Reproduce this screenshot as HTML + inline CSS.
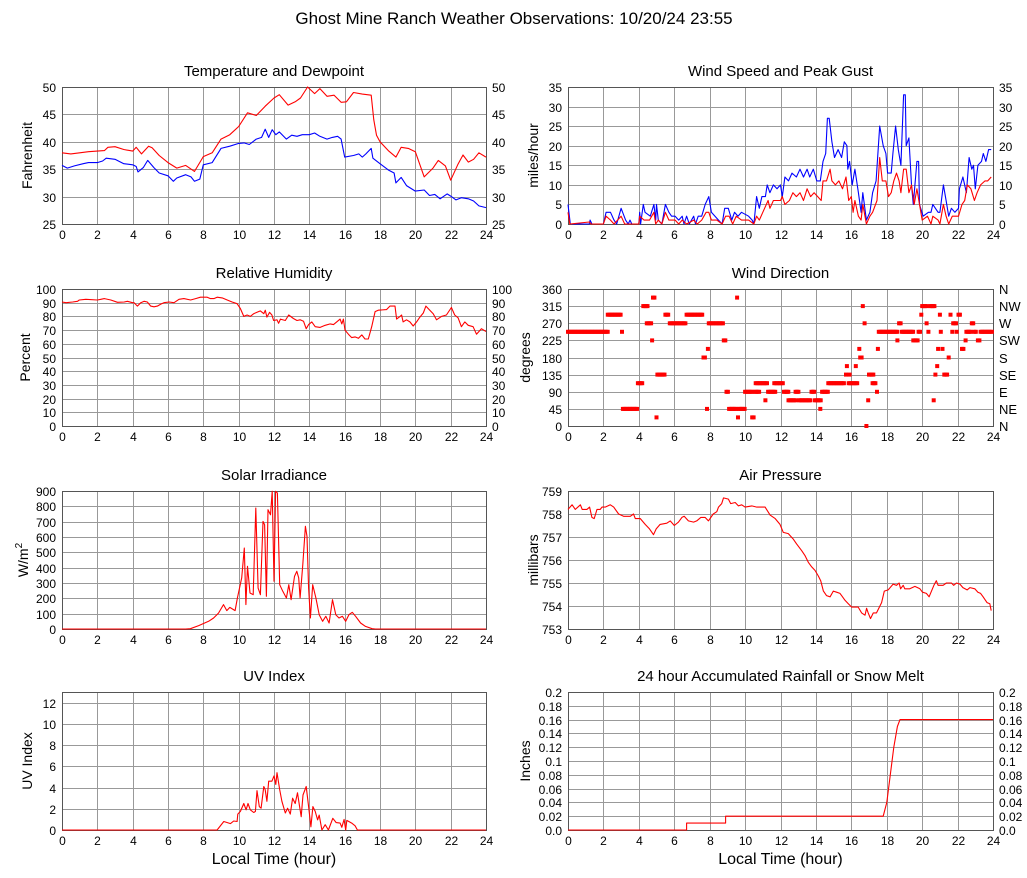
<!DOCTYPE html>
<html><head><meta charset="utf-8"><title>Ghost Mine Ranch Weather</title>
<style>
html,body{margin:0;padding:0;background:#fff;}
svg{display:block;font-family:"Liberation Sans",Arial,sans-serif;}
</style></head>
<body>
<svg id="chart" width="1027" height="878" viewBox="0 0 1027 878" xmlns="http://www.w3.org/2000/svg">
<text x="514" y="24" text-anchor="middle" font-size="17" fill="#000">Ghost Mine Ranch Weather Observations: 10/20/24 23:55</text>
</svg>
<script>
// ---- data ----
const hourTicks=[0,2,4,6,8,10,12,14,16,18,20,22,24];
const tempTicks=[25,30,35,40,45,50];
const windTicks=[0,5,10,15,20,25,30,35];
const rhTicks=[0,10,20,30,40,50,60,70,80,90,100];
const dirTicks=[0,45,90,135,180,225,270,315,360];
const dirLabels=["N","NE","E","SE","S","SW","W","NW","N"];
const solarTicks=[0,100,200,300,400,500,600,700,800,900];
const presTicks=[753,754,755,756,757,758,759];
const uvTicks=[0,2,4,6,8,10,12];
const rainTicks=[0,0.02,0.04,0.06,0.08,0.1,0.12,0.14,0.16,0.18,0.2];
const rainLabels=["0.0","0.02","0.04","0.06","0.08","0.1","0.12","0.14","0.16","0.18","0.2"];

const tempT=[0,0.5,1,1.5,2,2.4,2.6,3,3.5,4,4.2,4.5,4.9,5.1,5.5,6,6.5,7,7.5,8,8.5,9,9.5,10,10.5,11,11.5,12,12.3,12.8,13.2,13.5,13.9,14.3,14.6,15,15.4,15.8,16.1,16.5,17,17.5,17.65,17.8,18,18.5,18.9,19.2,19.6,20,20.5,21,21.3,21.7,22,22.4,22.7,23,23.3,23.6,24];
const tempV=[38,37.8,38,38.2,38.3,38.4,39,39.1,38.6,38.3,39,37.8,39.2,38.9,37.5,36.2,35.2,35.7,34.6,37.3,38,40.5,41.3,42.8,45.3,44.8,46.5,48,48.6,46.7,47.3,48,50,48.8,49.7,48.3,48.5,47.2,47.3,49,48.7,48.5,44,41.2,40,38.3,37.2,39,38.8,38.2,33.6,35.2,36.6,35.6,33,35.8,37.6,36.3,36.8,38,37.2];
const dewT=[0,0.3,0.7,1.2,1.5,2,2.3,2.5,3,3.5,4,4.2,4.3,4.6,4.85,5.2,5.5,6,6.3,6.5,7,7.3,7.5,7.8,8,8.5,9,9.5,10,10.3,10.6,10.8,11,11.3,11.5,11.7,11.9,12.1,12.3,12.7,13,13.3,13.6,14,14.3,14.6,15,15.3,15.6,15.8,16,16.5,16.8,17,17.2,17.5,17.6,18,18.5,18.8,18.9,19.2,19.5,20,20.5,20.8,21.1,21.4,21.8,22,22.3,22.6,23,23.3,23.6,24];
const dewV=[35.7,35.2,35.6,36,36.2,36.2,36.5,37,36.8,36,35.8,35.5,34.5,35.3,36.6,35.3,34.3,33.8,32.8,33.4,34,33.6,32.8,33.2,35.8,36.2,38.8,39.2,39.7,39.8,39.5,40,40.5,40.8,42.3,40.8,42.2,41.3,41.8,40.5,41.2,41,41.3,41.3,41.6,41,40.5,40.8,41,40.5,37.2,37.5,37.8,37.2,37.8,38.8,37,36,34.8,34.3,32.5,33.5,32,31,31.2,30.2,30.4,29.6,30.5,30.1,29.4,29.8,29.6,29.2,28.3,28];

const gustT=[0,0.13,1.2,1.25,1.35,2,2.15,2.4,2.6,2.75,3,3.25,3.4,3.5,3.6,4,4.05,4.1,4.25,4.35,4.65,4.85,4.95,5,5.1,5.3,5.5,5.7,5.85,6.05,6.25,6.45,6.55,6.7,6.85,7.1,7.2,7.35,7.55,7.75,7.95,8.1,8.3,8.5,8.7,8.85,9.05,9.25,9.4,9.6,9.8,10.2,10.4,10.5,10.65,10.8,10.95,11.15,11.25,11.4,11.6,11.8,12,12.1,12.25,12.45,12.65,12.9,13.1,13.3,13.5,13.65,13.85,14.05,14.25,14.4,14.55,14.65,14.75,14.9,15.05,15.25,15.45,15.6,15.75,15.8,15.9,16.05,16.2,16.4,16.55,16.65,16.85,17.05,17.2,17.4,17.6,17.8,17.95,18.05,18.25,18.35,18.5,18.65,18.8,18.95,19.05,19.1,19.25,19.4,19.5,19.7,19.8,19.85,20.05,20.35,20.5,20.6,20.9,21,21.2,21.35,21.5,21.65,21.85,22.05,22.1,22.3,22.5,22.65,22.8,22.9,23,23.15,23.35,23.45,23.6,23.75,23.9];
const gustV=[5,0,0,1,0,0,3,3,1,0,4,1,0,1,0,0,3,0,5,3,2,5,1,5,1,0,5,3,2,2,1,2,0,2,0,2,0,2,2,5,7,3,2,1,0,4,4,1,3,2,3,2,1,0,7,4,7,7,10,8,10,9,10,7,12,11,13,12,14,12,14,12,14,11,11,16,18,27,27,21,17,19,17,21,20,14,16,10,14,8,3,8,1,3,8,11,25,20,18,13,13,18,25,19,15,33,33,20,22,10,5,16,16,5,2,3,3,5,3,3,10,6,2,4,3,4,9,12,8,17,14,15,9,15,16,18,16,19,19];
const speedT=[0,0.1,1.2,1.3,2,2.15,2.4,2.6,3,3.2,4,4.05,4.3,4.6,4.85,4.95,5.1,5.3,5.5,5.7,6.05,6.25,6.45,6.7,7.1,7.3,7.55,7.8,7.95,8.1,8.4,8.7,8.9,9.1,9.3,9.5,9.8,10.2,10.5,10.65,10.8,11,11.3,11.4,11.6,12,12.1,12.25,12.5,12.7,12.9,13.1,13.3,13.5,13.7,13.9,14.1,14.3,14.4,14.6,14.8,14.9,15.1,15.3,15.5,15.7,15.85,16,16.1,16.2,16.4,16.55,16.65,16.85,17.05,17.2,17.45,17.6,17.75,17.95,18.1,18.25,18.4,18.55,18.7,18.8,18.95,19.1,19.25,19.4,19.55,19.7,19.85,20,20.3,20.5,20.6,20.9,21,21.2,21.35,21.5,21.7,22.05,22.25,22.4,22.55,22.75,22.95,23.1,23.3,23.55,23.7,23.9];
const speedV=[3,0,0.5,0,0,2,1,0,2,0,0,2,1,1,3,0,1,0,3,1,1,0,1,0,1,0,1,3,3,1,1,0,2,2,0,2,1,1,0,2,1,3,6,4,6,6,7,5,6,8,7,8,6,9,7,8,7,6,11,11,14,11,10,11,9,12,6,7,3,6,2,1,5,0,2,3,6,17,11,11,7,8,11,13,11,8,14,14,8,10,5,9,5,1,2,0,2,1,0,5,2,0,2,2,5,6,10,9,6,8,10,11,11,12];

const rhT=[0,0.23,0.6,0.88,0.98,1.35,2,2.2,2.4,2.76,3.14,3.52,3.7,3.99,4.08,4.27,4.46,4.65,4.83,5.02,5.21,5.4,5.59,5.77,6.06,6.34,6.62,6.9,7.28,7.56,7.84,8.22,8.4,8.6,8.78,9.07,9.35,9.63,9.91,10.1,10.29,10.48,10.66,10.85,11.04,11.23,11.42,11.51,11.6,11.75,11.88,11.98,12.17,12.26,12.36,12.64,12.83,13.1,13.3,13.48,13.67,13.82,13.96,14.14,14.33,14.61,14.9,15.18,15.37,15.55,15.74,15.84,15.93,16.02,16.21,16.4,16.59,16.78,16.97,17.15,17.34,17.53,17.72,17.9,18.37,18.56,18.85,18.94,19.13,19.22,19.31,19.5,19.69,19.88,20.07,20.26,20.45,20.6,20.82,21.01,21.2,21.48,21.76,22.04,22.23,22.42,22.61,22.8,22.99,23.27,23.46,23.74,24];
const rhV=[90.5,90,90.5,91,92,92.5,92,92.5,93,92,90.3,90.5,91,90,90,87.5,90,91,90.5,87.5,87,87.5,89,90,90.5,90,92.5,93,92,93,94,94,93,93,94,93.5,92,90.5,89.3,85.7,80,81,80,82,83,84,82,84.5,79.5,83,81,77,77.5,75,78,77,81,78.5,77,77.5,76.5,71,74,76,72.5,72,73.5,74.5,74,76,78,74.5,78,70,67,64.5,65,64,66.5,63.5,63.5,72.5,83.5,84.5,85,87.5,87.5,78,80,81,76,77.5,76,73,76,79.5,82.5,87.5,84.5,82,77.5,80,81,86.5,81,79,72.5,76,73.5,72.5,67,71,69];

const dirStart=[0,2.25,3.05,3.1,3.95,4.25,4.45,4.75,4.8,5.0,5.05,5.5,5.75,6.7,7.65,7.85,7.9,7.95,8.8,8.95,9.1,9.55,9.6,9.65,10.0,10.4,10.55,10.6,11.15,11.3,11.65,12.2,12.45,12.85,13.05,13.75,13.95,14.25,14.35,14.7,15.7,15.75,15.85,15.9,16.25,16.45,16.5,16.65,16.75,16.85,16.95,17.0,17.2,17.45,17.5,17.55,18.6,18.7,18.85,19.5,19.8,19.95,20.0,20.25,20.35,20.45,20.65,20.75,20.85,20.9,21.0,21.05,21.15,21.25,21.5,21.6,21.7,21.75,21.95,22.05,22.25,22.45,22.5,22.8,22.95,23.15,23.3];
const dirEnd=[2.25,3.0,3.05,3.95,4.2,4.5,4.75,4.75,4.95,5.0,5.5,5.7,6.7,7.6,7.8,7.85,7.9,8.8,8.95,9.1,9.5,9.55,9.6,10.0,10.4,10.55,10.8,11.3,11.15,11.7,12.2,12.45,12.85,13.05,13.7,13.95,14.3,14.25,14.7,15.65,15.7,15.75,16.4,15.9,16.25,16.45,16.65,16.65,16.75,16.85,16.95,17.3,17.4,17.45,17.5,18.6,18.6,18.8,19.5,19.75,19.95,19.95,20.25,20.25,20.35,20.75,20.65,20.75,20.85,20.9,21.0,21.05,21.15,21.45,21.5,21.6,21.7,21.95,21.95,22.2,22.4,22.45,22.8,22.95,23.1,23.3,24];
const dirDeg=[247.5,292.5,247.5,45,112.5,315,270,225,337.5,22.5,135,292.5,270,292.5,180,45,202.5,270,225,90,45,337.5,22.5,45,90,22.5,90,112.5,67.5,90,112.5,90,67.5,90,67.5,90,67.5,45,90,112.5,135,157.5,112.5,135,157.5,202.5,180,315,270,0,67.5,135,112.5,90,202.5,247.5,225,270,247.5,225,247.5,292.5,315,270,247.5,315,67.5,135,157.5,202.5,292.5,247.5,202.5,135,180,292.5,247.5,270,247.5,292.5,202.5,225,247.5,270,247.5,225,247.5];

const solarT=[0,7.0,7.27,7.74,8.3,8.58,8.86,9.14,9.33,9.5,9.8,9.93,10.17,10.32,10.41,10.5,10.64,10.82,10.97,11.1,11.23,11.38,11.47,11.57,11.66,11.8,11.9,12.0,12.09,12.19,12.32,12.5,12.7,12.84,12.97,13.16,13.29,13.4,13.48,13.63,13.78,13.87,13.96,14.06,14.19,14.37,14.56,14.75,14.93,15.12,15.31,15.5,15.68,15.87,16.06,16.24,16.43,16.62,16.9,17.18,17.55,17.74,24];
const solarV=[0,0,2,22,50,72,104,159,120,141,120,202,333,528,159,409,235,224,789,267,224,702,680,213,778,745,898,311,898,887,289,246,202,289,191,343,376,333,202,420,670,604,267,72,289,202,93,50,83,39,191,93,72,83,50,93,109,83,39,17,2,0,0];

const presT=[0,0.23,0.41,0.7,0.8,1.07,1.22,1.35,1.48,1.64,1.82,1.92,2.1,2.39,2.58,2.86,3.14,3.52,3.7,3.8,4.08,4.36,4.6,4.83,4.98,5.2,5.58,5.77,6,6.24,6.43,6.56,6.8,7.09,7.27,7.5,7.74,7.93,8.2,8.4,8.5,8.68,8.78,9.06,9.19,9.44,9.62,9.81,10,10.38,10.66,10.85,11.13,11.41,11.7,11.97,12.16,12.44,12.73,12.91,13.2,13.38,13.57,13.76,13.95,14.14,14.27,14.42,14.6,14.8,14.98,15.17,15.36,15.45,15.64,15.83,16.02,16.39,16.58,16.77,16.86,16.95,17.08,17.24,17.42,17.71,17.86,18.08,18.36,18.55,18.7,18.78,18.93,19.02,19.3,19.59,19.87,20.02,20.24,20.39,20.66,20.8,20.9,21.18,21.37,21.65,21.78,21.94,22.13,22.3,22.54,22.7,22.97,23.15,23.3,23.44,23.66,23.82,23.9];
const presV=[758.2,758.4,758.2,758.4,758.2,758.2,758.3,757.85,757.8,758.2,758.2,758.3,758.3,758.4,758.3,758.0,757.9,757.9,758.0,757.8,757.8,757.55,757.35,757.1,757.35,757.55,757.6,757.7,757.5,757.65,757.85,757.9,757.7,757.65,757.7,757.85,757.85,757.7,758.0,758.1,758.3,758.45,758.7,758.65,758.45,758.5,758.35,758.4,758.3,758.35,758.3,758.3,758.3,757.95,757.8,757.55,757.2,757.15,756.9,756.7,756.4,756.2,755.9,755.7,755.55,755.3,755.1,754.65,754.45,754.4,754.65,754.6,754.55,754.45,754.25,754.1,753.95,753.95,753.7,753.6,753.9,753.7,753.45,753.7,753.7,754.15,754.65,754.7,754.95,754.9,755.0,754.75,754.9,754.75,754.75,754.85,754.75,754.6,754.55,754.4,754.9,755.1,754.9,754.9,755.0,755.0,754.9,755.0,754.95,754.8,754.7,754.8,754.75,754.6,754.55,754.4,754.15,754.1,753.8];

const uvT=[0,8.78,9.16,9.54,9.72,9.91,9.95,10.1,10.29,10.42,10.53,10.66,10.85,10.95,11.04,11.17,11.27,11.42,11.5,11.6,11.7,11.88,12.0,12.1,12.17,12.32,12.45,12.64,12.77,12.92,13.05,13.2,13.33,13.45,13.54,13.64,13.82,13.96,14.09,14.2,14.33,14.47,14.56,14.71,14.9,15.08,15.33,15.52,15.74,15.84,15.97,16.06,16.12,16.4,16.59,16.72,24];
const uvV=[0,0,0.8,0.6,0.85,0.8,1.5,1.75,2.5,1.9,2.5,1.9,1.65,1.75,3.7,2.2,2.05,4.1,3.8,2.7,4.6,4.6,5.1,4.3,5.4,3.8,2.7,1.6,2.05,1.5,3.0,2.5,3.5,2.2,1.25,3.3,4.1,2.2,0.3,2.2,1.75,0.95,1.4,0,0.5,0,1.1,0.7,0.65,0.25,1.0,0,0.9,0.65,0.4,0,0];

const rainT=[0,6.7,6.7,8.9,8.9,17.8,18.0,18.2,18.4,18.6,18.75,24];
const rainV=[0,0,0.01,0.01,0.02,0.02,0.04,0.08,0.12,0.15,0.16,0.16];

// ---- drawing ----
const NS="http://www.w3.org/2000/svg";
const svg=document.getElementById('chart');
function mk(tag,attrs,parent){const e=document.createElementNS(NS,tag);for(const k in attrs)e.setAttribute(k,attrs[k]);(parent||svg).appendChild(e);return e;}
function sx(p,t){return p.x0+(t/24)*(p.x1-p.x0);}
function sy(p,v){return p.y1-(v-p.min)/(p.max-p.min)*(p.y1-p.y0);}

function panel(p){
  const g=mk('g',{});
  
  
  const t=mk('text',{x:(p.x0+p.x1)/2,y:p.y0-11,'text-anchor':'middle','font-size':15},g);
  t.textContent=p.title;
  
  
  p.ticks.forEach((v,i)=>{
    const y=Math.round(sy(p,v))+0.5;
    const gl=mk('line',{x1:p.x0,x2:p.x1,y1:y,y2:y,stroke:'#999','stroke-width':1},g);
    
    
    const lab=p.labels?p.labels[i]:String(v);
    const lt=mk('text',{x:p.x0-6,y:y+4.5,'text-anchor':'end','font-size':12},g);
    lt.textContent=lab;
    
    
    if(p.right){
      const rt=mk('text',{x:p.x1+6,y:y+4.5,'text-anchor':'start','font-size':p.rightLabels?13:12},g);
      rt.textContent=p.rightLabels?p.rightLabels[i]:lab;
      
      
    }
  });
  hourTicks.forEach(h=>{
    const x=Math.round(sx(p,h))+0.5;
    const vl=mk('line',{x1:x,x2:x,y1:p.y0,y2:p.y1,stroke:'#999','stroke-width':1},g);
    
    
    const xt=mk('text',{x:x,y:p.y1+15,'text-anchor':'middle','font-size':12},g);
    xt.textContent=String(h);
    
    
  });
  const fr=mk('rect',{x:p.x0+0.5,y:p.y0+0.5,width:p.x1-p.x0,height:p.y1-p.y0,fill:'none',stroke:'#555','stroke-width':1},g);
  
  
  const cx=p.ytx, cy=(p.y0+p.y1)/2;
  const yt=mk('text',{x:cx,y:cy,'text-anchor':'middle','font-size':14,transform:'rotate(-90 '+cx+' '+cy+')'},g);
  if(p.ysup){yt.textContent=p.ylabel;const ts=mk('tspan',{'font-size':10,dy:-6},yt);ts.textContent=p.ysup;}
  else yt.textContent=p.ylabel;
  
  
  if(p.xlabel){
    const xl=mk('text',{x:(p.x0+p.x1)/2,y:p.y1+34,'text-anchor':'middle','font-size':16},g);
    xl.textContent='Local Time (hour)';
    
    
  }
  return g;
}
function line(p,T,V,color,name){
  const pts=T.map((t,i)=>sx(p,t).toFixed(1)+','+sy(p,V[i]).toFixed(1)).join(' ');
  const pl=mk('polyline',{points:pts,fill:'none',stroke:color,'stroke-width':1.1,'stroke-linejoin':'round'});
  
  
}

const L0=62,L1=486,R0=568,R1=993;
const rows=[[87,224],[289,426],[491,629],[692,830]];

const pTemp={name:'temperature',title:'Temperature and Dewpoint',x0:L0,x1:L1,y0:rows[0][0],y1:rows[0][1],min:25,max:50,ticks:tempTicks,right:true,ylabel:'Fahrenheit',ytx:32};
const pWind={name:'wind-speed',title:'Wind Speed and Peak Gust',x0:R0,x1:R1,y0:rows[0][0],y1:rows[0][1],min:0,max:35,ticks:windTicks,right:true,ylabel:'miles/hour',ytx:538};
const pRH={name:'humidity',title:'Relative Humidity',x0:L0,x1:L1,y0:rows[1][0],y1:rows[1][1],min:0,max:100,ticks:rhTicks,right:true,ylabel:'Percent',ytx:30};
const pDir={name:'wind-direction',title:'Wind Direction',x0:R0,x1:R1,y0:rows[1][0],y1:rows[1][1],min:0,max:360,ticks:dirTicks,right:true,rightLabels:dirLabels,ylabel:'degrees',ytx:530};
const pSolar={name:'solar',title:'Solar Irradiance',x0:L0,x1:L1,y0:rows[2][0],y1:rows[2][1],min:0,max:900,ticks:solarTicks,ylabel:'W/m',ysup:'2',ytx:28};
const pPres={name:'pressure',title:'Air Pressure',x0:R0,x1:R1,y0:rows[2][0],y1:rows[2][1],min:753,max:759,ticks:presTicks,ylabel:'millibars',ytx:538};
const pUV={name:'uv',title:'UV Index',x0:L0,x1:L1,y0:rows[3][0],y1:rows[3][1],min:0,max:13,ticks:uvTicks,ylabel:'UV Index',xlabel:true,ytx:32};
const pRain={name:'rain',title:'24 hour Accumulated Rainfall or Snow Melt',x0:R0,x1:R1,y0:rows[3][0],y1:rows[3][1],min:0,max:0.2,ticks:rainTicks,labels:rainLabels,right:true,ylabel:'Inches',xlabel:true,ytx:530};

[pTemp,pWind,pRH,pDir,pSolar,pPres,pUV,pRain].forEach(panel);

line(pTemp,dewT,dewV,'#0000ff','dewpoint-line');
line(pTemp,tempT,tempV,'#ff0000','temperature-line');
line(pWind,gustT,gustV,'#0000ff','gust-line');
line(pWind,speedT,speedV,'#ff0000','speed-line');
line(pRH,rhT,rhV,'#ff0000','humidity-line');
line(pSolar,solarT,solarV,'#ff0000','solar-line');
line(pPres,presT,presV,'#ff0000','pressure-line');
line(pUV,uvT,uvV,'#ff0000','uv-line');
line(pRain,rainT,rainV,'#ff0000','rain-line');

dirDeg.forEach((d,i)=>{
  for(let t=dirStart[i];t<=dirEnd[i]+1e-6;t+=0.08){
    const r=mk('rect',{x:(sx(pDir,t)-2).toFixed(1),y:(sy(pDir,d)-2).toFixed(1),width:4,height:4,fill:'#ff0000'});
    
    
  }
});
</script>
</body></html>
